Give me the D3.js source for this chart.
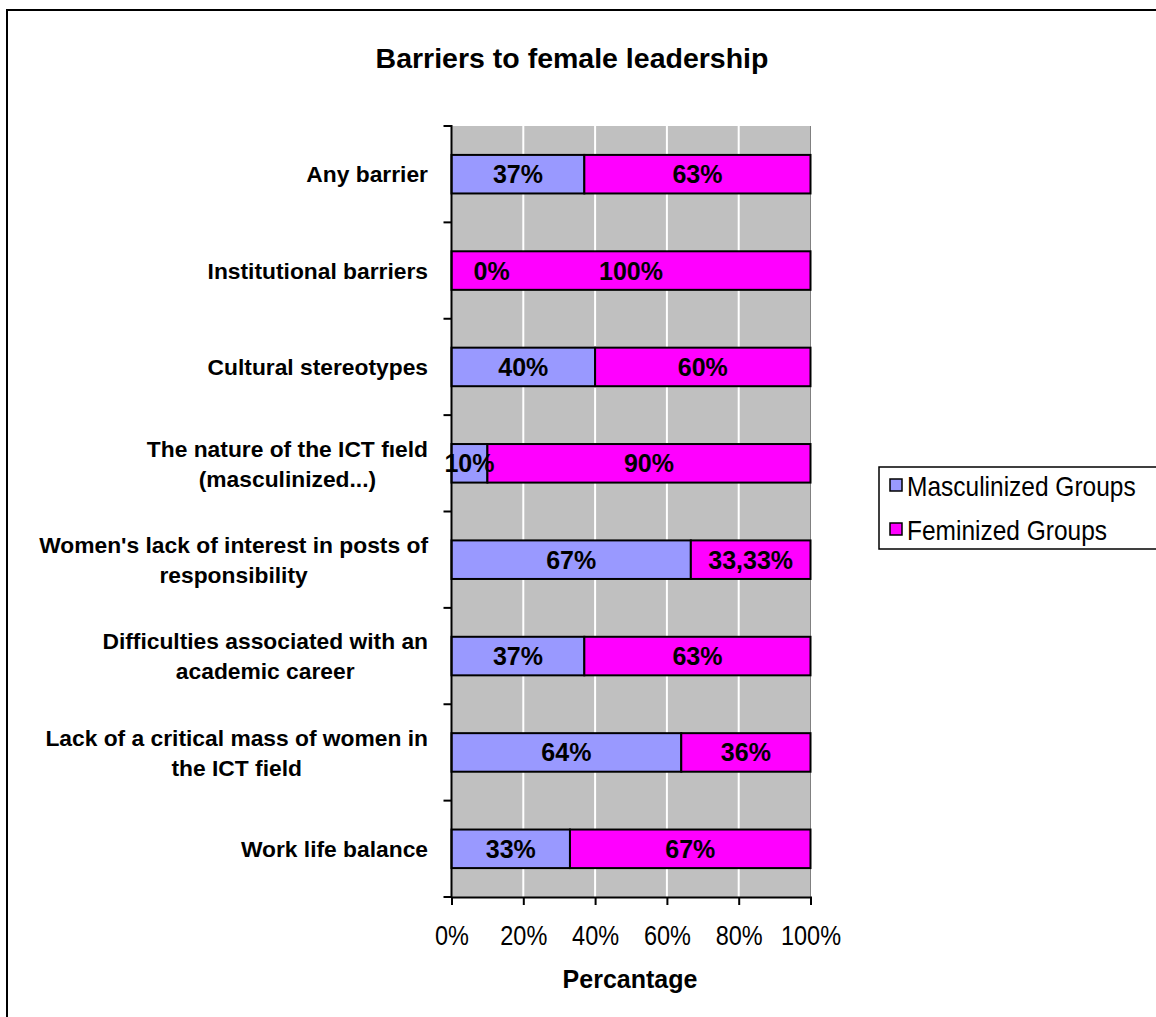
<!DOCTYPE html>
<html>
<head>
<meta charset="utf-8">
<script src="https://cdn.jsdelivr.net/npm/d3@7"></script>
<style>
  html, body { margin: 0; padding: 0; background: #fff; }
  svg { display: block; font-family: "Liberation Sans", Arial, sans-serif; }
</style>
</head>
<body>
<svg id="chart" width="1156" height="1017"></svg>
<script>
// Barriers to female leadership: 100% stacked horizontal bars
const categories = [
  ["Any barrier"],
  ["Institutional barriers"],
  ["Cultural stereotypes "],
  ["The nature of the ICT f\u0131eld", "(masculinized...)"],
  ["Women's lack of interest in posts of", "responsibility"],
  ["Difficulties associated with an", "academic career"],
  ["Lack of a critical mass of women in", "the ICT field"],
  ["Work life balance"]
];
const masculinized = [37, 0, 40, 10, 66.67, 37, 64, 33];
const feminized = [63, 100, 60, 90, 33.33, 63, 36, 67];
const masculinizedLabels = ["37%", "0%", "40%", "10%", "67%", "37%", "64%", "33%"];
const feminizedLabels = ["63%", "100%", "60%", "90%", "33,33%", "63%", "36%", "67%"];
const seriesNames = ["Masculinized Groups", "Feminized Groups"];
const seriesColors = ["#9999FF", "#FF00FF"];
const xTicks = [0, 20, 40, 60, 80, 100];

const svg = d3.select("#chart");

// outer chart frame
svg.append("rect")
  .attr("x", 7).attr("y", 10)
  .attr("width", 1165).attr("height", 1030)
  .attr("fill", "#fff").attr("stroke", "#000").attr("stroke-width", 2);

const plot = { left: 451.5, right: 810.5, top: 126, bottom: 897 };

const x = d3.scaleLinear().domain([0, 100]).range([plot.left, plot.right]);
const y = d3.scaleBand()
  .domain(d3.range(categories.length))
  .range([plot.top, plot.bottom])
  .paddingInner(0.6).paddingOuter(0.3);
const yEdge = d3.scaleLinear().domain([0, categories.length]).range([plot.top, plot.bottom]);

// plot background
svg.append("rect")
  .attr("x", plot.left).attr("y", plot.top)
  .attr("width", plot.right - plot.left).attr("height", plot.bottom - plot.top)
  .attr("fill", "#C0C0C0");
svg.append("line")
  .attr("x1", plot.right).attr("x2", plot.right)
  .attr("y1", plot.top).attr("y2", plot.bottom)
  .attr("stroke", "#808080").attr("stroke-width", 1);

// vertical gridlines
svg.append("g").selectAll("line")
  .data(xTicks.filter(t => t > 0 && t < 100))
  .join("line")
  .attr("x1", d => x(d)).attr("x2", d => x(d))
  .attr("y1", plot.top).attr("y2", plot.bottom)
  .attr("stroke", "#fff").attr("stroke-width", 2);

// stacked bars
const rows = categories.map((c, i) => ({
  i,
  segs: [
    { s: 0, x0: 0, x1: masculinized[i], label: masculinizedLabels[i] },
    { s: 1, x0: masculinized[i], x1: masculinized[i] + feminized[i], label: feminizedLabels[i] }
  ]
}));

const rowG = svg.append("g").selectAll("g").data(rows).join("g");
rowG.selectAll("rect")
  .data(d => d.segs.filter(s => s.x1 > s.x0).map(s => ({ ...s, i: d.i })))
  .join("rect")
  .attr("x", d => x(d.x0))
  .attr("width", d => x(d.x1) - x(d.x0))
  .attr("y", d => y(d.i))
  .attr("height", y.bandwidth())
  .attr("fill", d => seriesColors[d.s])
  .attr("stroke", "#000").attr("stroke-width", 2);

// segment value labels (slightly tall glyphs)
rowG.selectAll("text")
  .data(d => d.segs.map(s => ({ ...s, i: d.i })))
  .join("text")
  .attr("transform", d => {
    const tx = d.x1 === d.x0 ? x(d.x0) + 22 : x((d.x0 + d.x1) / 2);
    const ty = y(d.i) + y.bandwidth() / 2 + 9;
    return `translate(${tx},${ty}) scale(1,1.05)`;
  })
  .attr("text-anchor", d => d.x1 === d.x0 ? "start" : "middle")
  .attr("font-size", 25).attr("font-weight", "bold")
  .attr("fill", "#000")
  .text(d => d.label);

// y axis with boundary ticks
svg.append("line")
  .attr("x1", plot.left).attr("x2", plot.left)
  .attr("y1", plot.top - 1).attr("y2", plot.bottom + 1)
  .attr("stroke", "#000").attr("stroke-width", 2);
svg.append("g").selectAll("line")
  .data(d3.range(categories.length + 1))
  .join("line")
  .attr("x1", plot.left - 8).attr("x2", plot.left)
  .attr("y1", d => yEdge(d)).attr("y2", d => yEdge(d))
  .attr("stroke", "#000").attr("stroke-width", 2);

// x axis
const xAxis = svg.append("g")
  .attr("transform", `translate(0,${plot.bottom})`)
  .call(d3.axisBottom(x).tickValues(xTicks).tickSize(8).tickPadding(18)
    .tickFormat(d => d + "%"));
xAxis.select(".domain").attr("stroke", "#000").attr("stroke-width", 2);
xAxis.selectAll(".tick line").attr("stroke", "#000").attr("stroke-width", 2);
xAxis.selectAll(".tick text")
  .attr("y", null).attr("dy", null)
  .attr("transform", "translate(0,48) scale(1,1.15)")
  .attr("font-size", 23.5).attr("font-family", "Liberation Sans, Arial, sans-serif")
  .attr("fill", "#000");

// category labels: block right-aligned, lines centred within the block
const labelRight = 428;
const lineGap = 30;
const catG = svg.append("g").selectAll("g").data(categories).join("g");
catG.each(function(lines, i) {
  const g = d3.select(this);
  const cy = y(i) + y.bandwidth() / 2;
  const texts = g.selectAll("text").data(lines).join("text")
    .attr("font-size", 22.8).attr("font-weight", "bold").attr("fill", "#000")
    .attr("text-anchor", "middle")
    .attr("dy", "0.36em")
    .attr("y", (d, k) => cy + (k - (lines.length - 1) / 2) * lineGap)
    .text(d => d);
  let maxW = 0;
  texts.each(function() { maxW = Math.max(maxW, this.getComputedTextLength()); });
  texts.attr("x", labelRight - maxW / 2);
});

// title
svg.append("text")
  .attr("x", 572).attr("y", 68)
  .attr("text-anchor", "middle")
  .attr("font-size", 28.5).attr("font-weight", "bold")
  .text("Barriers to female leadership");

// x axis title
svg.append("text")
  .attr("x", 630).attr("y", 988)
  .attr("text-anchor", "middle")
  .attr("font-size", 25).attr("font-weight", "bold")
  .text("Percantage");

// legend
const legend = svg.append("g");
legend.append("rect")
  .attr("x", 879).attr("y", 467)
  .attr("width", 320).attr("height", 82)
  .attr("fill", "#fff").attr("stroke", "#000").attr("stroke-width", 1.5);
const items = legend.selectAll("g.item").data(seriesNames).join("g").attr("class", "item")
  .attr("transform", (d, k) => `translate(890,${479 + k * 44})`);
items.append("rect")
  .attr("width", 12).attr("height", 12)
  .attr("fill", (d, k) => seriesColors[k])
  .attr("stroke", "#000").attr("stroke-width", 1.5);
items.append("text")
  .attr("transform", "translate(17,17) scale(1,1.12)")
  .attr("font-size", 24.5).attr("fill", "#000")
  .text(d => d);
</script>
</body>
</html>
